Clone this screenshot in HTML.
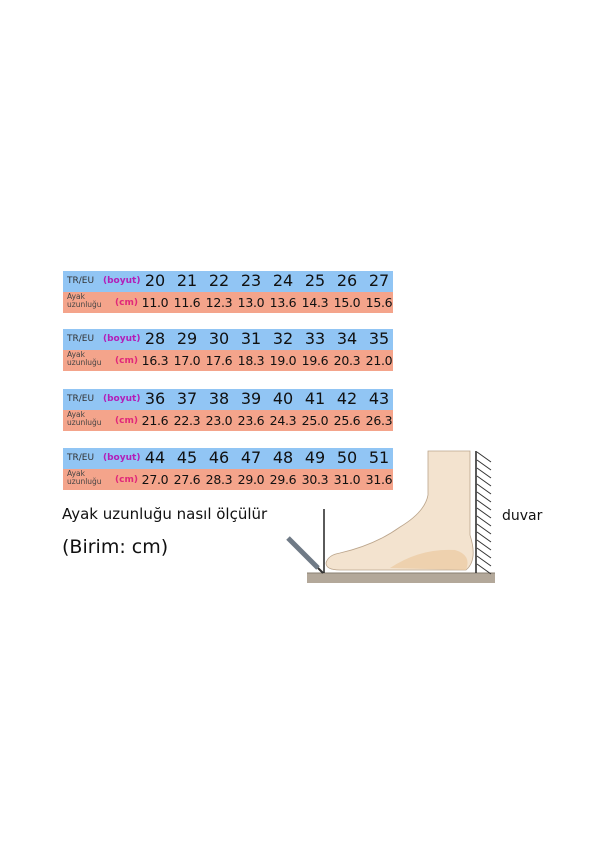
<!DOCTYPE html>
<html><head><meta charset="utf-8"><style>
body{margin:0;width:602px;height:857px;background:#fff;position:relative;overflow:hidden;font-family:"DejaVu Sans","Liberation Sans",sans-serif}
.t{position:absolute;left:63px;width:330px;height:42px}
.b{position:absolute;left:0;top:0;width:330px;height:21px;background:#91c5f4}
.s{position:absolute;left:0;top:21px;width:330px;height:21px;background:#f4a48b}
.l{position:absolute;font-size:9px;color:#333;left:4px}
.u{position:absolute;font-size:9px;font-weight:bold;color:#b21fb8;}
.n{position:absolute;width:32px;text-align:center;color:#111}
.bn{font-size:16px;top:0px}
.sn{font-size:12.5px;top:24px;letter-spacing:-0.3px}
.a{position:absolute;left:4px;top:22px;font-size:7.5px;line-height:8px;color:#444}
</style></head><body>
<div id="tables"></div>
<script>
var data=[[271,[20,21,22,23,24,25,26,27],["11.0","11.6","12.3","13.0","13.6","14.3","15.0","15.6"]],
[329,[28,29,30,31,32,33,34,35],["16.3","17.0","17.6","18.3","19.0","19.6","20.3","21.0"]],
[389,[36,37,38,39,40,41,42,43],["21.6","22.3","23.0","23.6","24.3","25.0","25.6","26.3"]],
[448,[44,45,46,47,48,49,50,51],["27.0","27.6","28.3","29.0","29.6","30.3","31.0","31.6"]]];
var h="";
data.forEach(function(d){
h+='<div class="t" style="top:'+d[0]+'px"><div class="b"></div><div class="s"></div>';
h+='<div class="l" style="top:5px">TR/EU</div><div class="u" style="left:40px;top:5px">(boyut)</div>';
h+='<div class="a">Ayak<br>uzunluğu</div><div class="u" style="left:52px;top:27px;color:#e0287a">(cm)</div>';
for(var i=0;i<8;i++){var x=76+i*32;
h+='<div class="n bn" style="left:'+x+'px">'+d[1][i]+'</div><div class="n sn" style="left:'+x+'px">'+d[2][i]+'</div>';}
h+='</div>';});
document.getElementById('tables').innerHTML=h;
</script>
<div style="position:absolute;left:62px;top:505px;font-size:15px;color:#111">Ayak uzunluğu nasıl ölçülür</div>
<div style="position:absolute;left:62px;top:536px;font-size:19px;color:#111">(Birim: cm)</div>
<div style="position:absolute;left:502px;top:508px;font-size:14px;color:#111">duvar</div>
<svg style="position:absolute;left:0;top:0" width="602" height="857">
<rect x="307" y="573" width="188" height="10" fill="#b3a89a"/>
<line x1="307" y1="573" x2="495" y2="573" fill="none" stroke="#8a7f72"/>
<line x1="476" y1="451" x2="476" y2="573" stroke="#222" stroke-width="1.5"/>
<g stroke="#333" stroke-width="1">
<path d="M477 452 l14 10 M477 460 l14 10 M477 468 l14 10 M477 476 l14 10 M477 484 l14 10 M477 492 l14 10 M477 500 l14 10 M477 508 l14 10 M477 516 l14 10 M477 524 l14 10 M477 532 l14 10 M477 540 l14 10 M477 548 l14 10 M477 556 l14 10 M477 564 l14 10"/>
</g>
<line x1="324" y1="509" x2="324" y2="573" stroke="#222" stroke-width="1.5"/>
<path d="M428 451 L470 451 L470 535 Q478 560 466 570 L340 570 Q326 570 326 563 Q328 555 340 553 Q375 545 400 527 Q425 512 428 495 Z" fill="#f3e3cf" stroke="#bba58c" stroke-width="0.8"/>
<path d="M390 568 Q420 548 455 550 Q472 555 466 570 Z" fill="#ebc9a0" opacity="0.7"/>
<line x1="288" y1="538" x2="318" y2="568" stroke="#6f7a86" stroke-width="5"/>
<line x1="318" y1="568" x2="323" y2="573" stroke="#333" stroke-width="2"/>
</svg>
</body></html>
